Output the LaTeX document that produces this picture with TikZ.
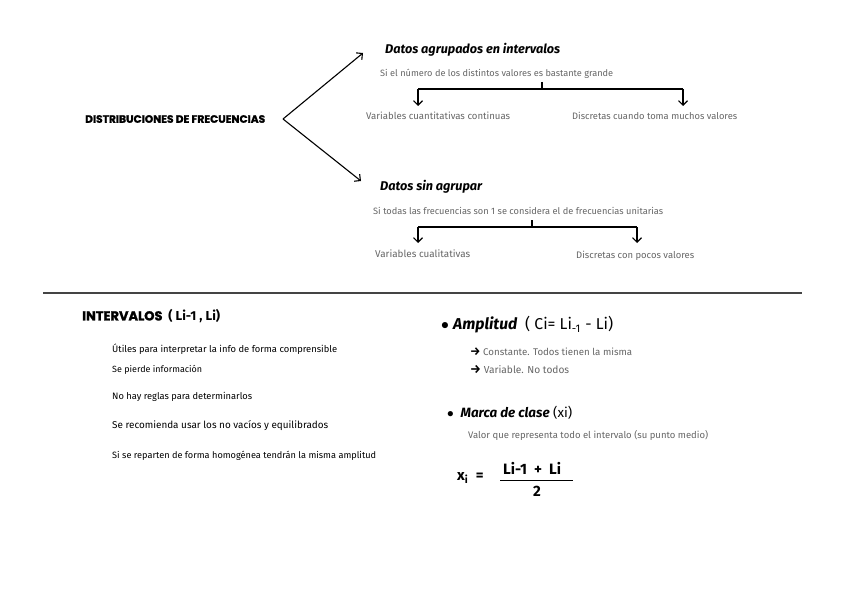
\documentclass[tikz,border=0pt]{standalone}
\usepackage{fontspec}
\setmainfont{Fira Sans}
\newfontfamily\headfont{Poppins}[BoldFeatures={FakeBold=1.5}]
\usetikzlibrary{arrows.meta}
\definecolor{txtgray}{HTML}{666666}
\definecolor{rulegray}{HTML}{444444}
\newcommand\fw[2]{\resizebox{#1pt}{!}{#2}}
\tikzset{
  base/.style={inner sep=0pt, anchor=west},
  bighead/.style={base, font=\headfont\bfseries, text=black},
  subhead/.style={base, font=\bfseries\itshape, text=black},
  note/.style={base, text=txtgray},
  item/.style={base, text=black},
  formula/.style={base, font=\fontsize{15}{17}\selectfont\bfseries, text=black},
  conn/.style={line width=1.1pt, -{Straight Barb[length=4.5pt,width=9pt,line width=1.1pt]}},
  plain/.style={line width=1.1pt},
}
\begin{document}
\begin{tikzpicture}[x=1pt,y=-1pt]
\useasboundingbox[fill=white] (0,0) rectangle (848,599);

% top section
\node[bighead] (dist) at (85,119) {\fw{180}{DISTRIBUCIONES DE FRECUENCIAS}};
\coordinate (apex) at (283,119);
\node[subhead] (agr) at (385,50) {\fw{175}{Datos agrupados en intervalos}};
\node[note] (agrn) at (380,74) {\fw{233}{Si el número de los distintos valores es bastante grande}};
\node[note] (agra) at (366,116) {\fw{144}{Variables cuantitativas continuas}};
\node[note] (agrb) at (572,116) {\fw{165}{Discretas cuando toma muchos valores}};
\node[subhead] (sin) at (380,187) {\fw{102}{Datos sin agrupar}};
\node[note] (sinn) at (373,211) {\fw{290}{Si todas las frecuencias son 1 se considera el de frecuencias unitarias}};
\node[note] (sina) at (375,254) {\fw{95}{Variables cualitativas}};
\node[note] (sinb) at (576,256) {\fw{118}{Discretas con pocos valores}};

\coordinate (tipA) at (363,53);
\coordinate (tipB) at (361,181);
\draw[conn] (apex) -- (tipA);
\draw[conn] (apex) -- (tipB);

% bracket 1
\coordinate (b1s) at (542,82);
\coordinate (b1m) at (542,89);
\coordinate (b1l) at (418,89);
\coordinate (b1r) at (683,89);
\coordinate (b1la) at (418,106);
\coordinate (b1ra) at (683,106);
\draw[plain] (b1s) -- (b1m);
\draw[plain] (b1l) -- (b1r);
\draw[conn] (b1l) -- (b1la);
\draw[conn] (b1r) -- (b1ra);

% bracket 2
\coordinate (b2s) at (532,220);
\coordinate (b2m) at (532,227);
\coordinate (b2l) at (418,227);
\coordinate (b2r) at (637,227);
\coordinate (b2la) at (418,243);
\coordinate (b2ra) at (637,243);
\draw[plain] (b2s) -- (b2m);
\draw[plain] (b2l) -- (b2r);
\draw[conn] (b2l) -- (b2la);
\draw[conn] (b2r) -- (b2ra);

% separator
\coordinate (sepL) at (43,293);
\coordinate (sepR) at (802,293);
\draw[rulegray, line width=1.3pt] (sepL) -- (sepR);

% INTERVALOS section
\node[bighead] (int) at (82,316) {\fw{138}{INTERVALOS {\normalfont\bfseries\ ( Li-1 , Li)}}};
\node[item] (i1) at (112,349) {\fw{225}{Útiles para interpretar la info de forma comprensible}};
\node[item] (i2) at (112,370) {\fw{90}{Se pierde información}};
\node[item] (i3) at (112,397) {\fw{140}{No hay reglas para determinarlos}};
\node[item] (i4) at (112,426) {\fw{216}{Se recomienda usar los no vacíos y equilibrados}};
\node[item] (i5) at (112,456) {\fw{264}{Si se reparten de forma homogénea tendrán la misma amplitud}};

% Amplitud
\node[base] (amp) at (441,325) {\fw{172}{$\bullet$ {\bfseries\itshape Amplitud}\enspace ( Ci= Li\textsubscript{-1} - Li)}};
\node[base, text=txtgray] (amp1) at (470,352) {\fw{162}{{\color{black}\bfseries\large →} Constante. Todos tienen la misma}};
\node[base, text=txtgray] (amp2) at (470,370) {\fw{99}{{\color{black}\bfseries\large →} Variable. No todos}};

% Marca de clase
\node[base] (mc) at (447,413) {\fw{125}{$\bullet$\enspace{\bfseries\itshape Marca de clase} (xi)}};
\node[note] (mcn) at (468,435) {\fw{240}{Valor que representa todo el intervalo (su punto medio)}};

% formula
\node[formula] (xi) at (457,478) {x\textsubscript{i}\enspace =};
\node[formula] (num) at (503,468) {Li-1\hspace{7pt}+\hspace{7pt}Li};
\node[formula] (den) at (533,491) {2};
\coordinate (fracL) at (500,480);
\coordinate (fracR) at (573,480);
\draw[line width=0.9pt] (fracL) -- (fracR);
\end{tikzpicture}
\end{document}
